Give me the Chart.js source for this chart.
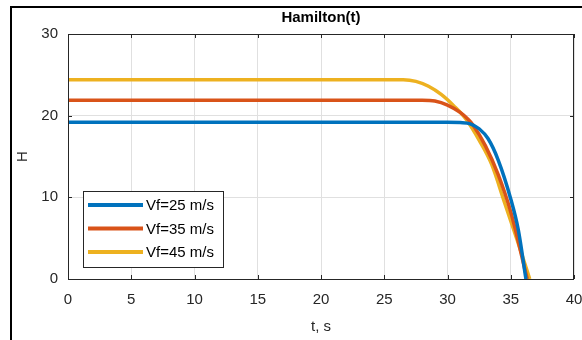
<!DOCTYPE html>
<html>
<head>
<meta charset="UTF-8">
<title>Hamilton(t)</title>
<script src="https://cdn.jsdelivr.net/npm/chart.js"></script>
<style>
  body { margin: 0; background: #fff; }
  #wrap { position: relative; width: 582px; height: 340px; }
  #frame { position: absolute; left: 10px; top: 6px; right: 0; bottom: 0; border-left: 2px solid #000; border-top: 2px solid #000; pointer-events: none; }
  canvas { display: block; }
</style>
</head>
<body>
<div id="wrap">
  <canvas id="c" width="582" height="340"></canvas>
  <div id="frame"></div>
</div>
<script>
// values
const seriesLabels = ['Vf=25 m/s', 'Vf=35 m/s', 'Vf=45 m/s'];
const seriesColors = ['#0072BD', '#D95319', '#EDB120'];

const t25 = [0, 30, 31, 31.8, 32.5, 33.2, 34, 35, 35.6, 36.2];
const h25 = [19.2, 19.2, 19.15, 19.0, 18.4, 17.2, 14.6, 9.8, 6.0, 0];

const t35 = [0, 28, 29, 30, 31, 31.6, 32, 33, 34, 35, 36.3];
const h35 = [21.9, 21.9, 21.8, 21.3, 20.4, 19.6, 18.9, 16.3, 12.8, 8.2, 0];

const t45 = [0, 26.5, 27.5, 28.5, 29.5, 30.5, 31.5, 32.5, 33.5, 34.5, 35.5, 36.5];
const h45 = [24.4, 24.4, 24.2, 23.6, 22.6, 21.2, 19.5, 17.0, 14.0, 9.4, 4.8, 0];

const xTicks = [0, 5, 10, 15, 20, 25, 30, 35, 40];
const yTicks = [0, 10, 20, 30];

const pts = (ts, hs) => ts.map((t, i) => ({ x: t, y: hs[i] }));
const seriesData = [pts(t25, h25), pts(t35, h35), pts(t45, h45)];

const axisColor = '#262626';
const font = 'Liberation Sans, Arial, sans-serif';

// box, inward ticks and the legend, MATLAB style
const matlabBox = {
  id: 'matlabBox',
  afterDatasetsDraw(chart) {
    const { ctx, chartArea: a, scales } = chart;
    ctx.save();
    ctx.strokeStyle = axisColor;
    ctx.lineWidth = 1;
    ctx.beginPath();
    xTicks.forEach(v => {
      const x = Math.round(scales.x.getPixelForValue(v)) + 0.5;
      ctx.moveTo(x, a.bottom); ctx.lineTo(x, a.bottom - 4);
      ctx.moveTo(x, a.top); ctx.lineTo(x, a.top + 4);
    });
    yTicks.forEach(v => {
      const y = Math.round(scales.y.getPixelForValue(v)) + 0.5;
      ctx.moveTo(a.left, y); ctx.lineTo(a.left + 4, y);
      ctx.moveTo(a.right, y); ctx.lineTo(a.right - 4, y);
    });
    ctx.stroke();
    ctx.strokeRect(Math.round(a.left) + 0.5, Math.round(a.top) + 0.5,
                   Math.round(a.right - a.left) - 1, Math.round(a.bottom - a.top));

    // legend, southwest
    const bx = a.left + 15, bw = 140, bh = 76;
    const by = a.bottom - 12 - bh;
    ctx.fillStyle = '#fff';
    ctx.fillRect(bx, by, bw, bh);
    ctx.strokeRect(bx + 0.5, by + 0.5, bw, bh);
    ctx.font = '15px ' + font;
    ctx.textBaseline = 'middle';
    chart.data.datasets.forEach((ds, i) => {
      const y = by + 14 + i * 23.5;
      ctx.strokeStyle = ds.borderColor;
      ctx.lineWidth = 4;
      ctx.beginPath();
      ctx.moveTo(bx + 5, y); ctx.lineTo(bx + 60, y);
      ctx.stroke();
      ctx.fillStyle = '#000';
      ctx.fillText(ds.label, bx + 63, y + 1);
    });
    ctx.restore();
  }
};

new Chart(document.getElementById('c'), {
  type: 'line',
  data: {
    datasets: seriesData.map((d, i) => ({
      label: seriesLabels[i],
      data: d,
      borderColor: seriesColors[i],
      backgroundColor: seriesColors[i],
      borderWidth: 3.5,
      pointRadius: 0,
      cubicInterpolationMode: 'monotone',
      fill: false
    }))
  },
  options: {
    responsive: false,
    animation: false,
    layout: { padding: { left: 0, right: 8, top: 0, bottom: 0 } },
    plugins: {
      legend: { display: false },
      tooltip: { enabled: false },
      title: {
        display: true,
        fullSize: false,
        text: 'Hamilton(t)',
        color: '#000',
        font: { family: font, size: 15, weight: 'bold' },
        padding: { top: 9, bottom: 7 }
      }
    },
    scales: {
      x: {
        type: 'linear',
        min: 0, max: 40,
        afterBuildTicks: s => { s.ticks = xTicks.map(v => ({ value: v })); },
        afterFit: s => { s.height = 61; s.paddingLeft = 0; s.paddingRight = 0; },
        grid: { color: '#e0e0e0', drawTicks: false },
        border: { display: false },
        ticks: { color: axisColor, padding: 12, maxRotation: 0, font: { family: font, size: 15 } },
        title: { display: true, text: 't, s', color: axisColor, font: { family: font, size: 15 }, padding: { top: 0, bottom: 4 } }
      },
      y: {
        type: 'linear',
        min: 0, max: 30,
        afterBuildTicks: s => { s.ticks = yTicks.map(v => ({ value: v })); },
        afterFit: s => { s.width = 68; s.paddingTop = 0; s.paddingBottom = 0; },
        grid: { color: '#e0e0e0', drawTicks: false },
        border: { display: false },
        ticks: { color: axisColor, padding: 10, font: { family: font, size: 15 } },
        title: { display: true, text: 'H', color: axisColor, font: { family: font, size: 15 }, padding: { top: 14, bottom: 0 } }
      }
    }
  },
  plugins: [matlabBox]
});
</script>
</body>
</html>
